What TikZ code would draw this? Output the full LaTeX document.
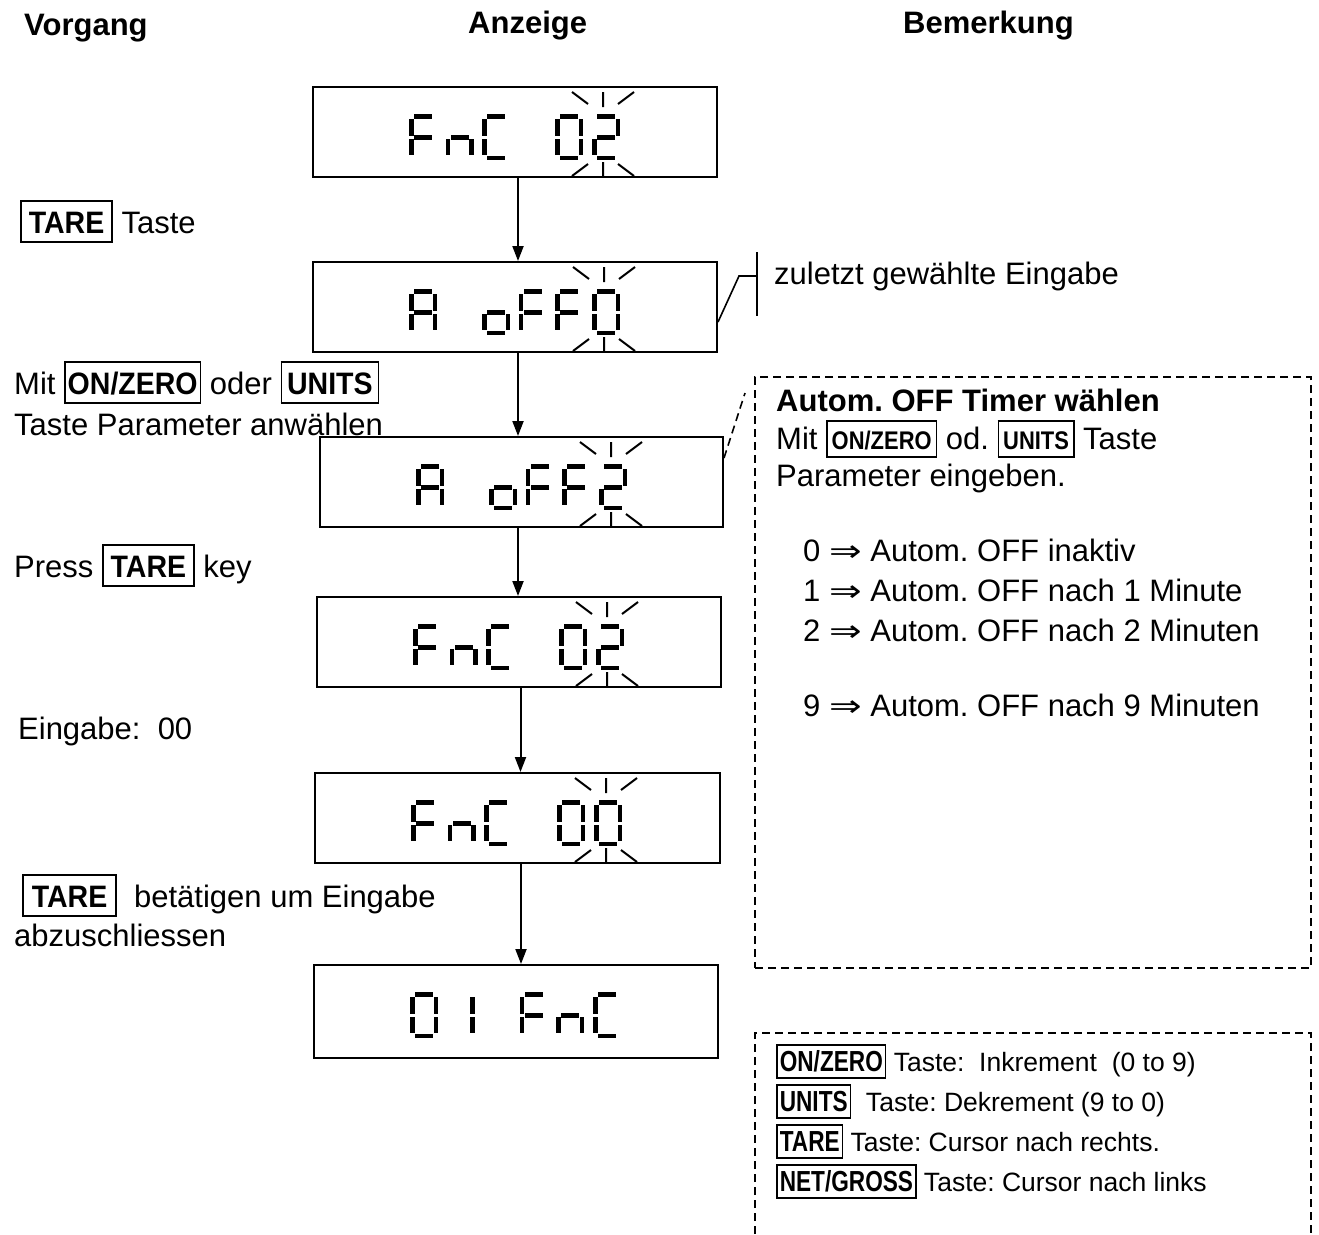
\documentclass[tikz,border=0pt]{standalone}
\usepackage{fontspec}
\setmainfont{Liberation Sans}
\newfontfamily\keyA{Liberation Sans}[FakeStretch=0.92]
\newfontfamily\keyB{Liberation Sans}[FakeStretch=0.86]
\newfontfamily\keyC{Liberation Sans}[FakeStretch=0.78]
\newfontfamily\symf{DejaVu Sans}
\usetikzlibrary{arrows.meta}
\frenchspacing
% key box: #1 font, #2 hpad, #3 height, #4 depth, #5 text
\newcommand\kbox[5]{{\setlength\fboxrule{1.6pt}\setlength\fboxsep{0pt}\fbox{\hspace*{#2}\rule[-#4]{0pt}{\dimexpr#3+#4\relax}{#1\bfseries #5}\hspace*{#2}}}}
\newcommand\kL[2][6pt]{\kbox{\keyA\fontsize{31}{31}\selectfont}{#1}{31pt}{8pt}{#2}}
\newcommand\kR[2][4pt]{\kbox{\keyB\fontsize{25.5}{25.5}\selectfont}{#1}{27pt}{7pt}{#2}}
\newcommand\kS[2][2pt]{\kbox{\keyC\fontsize{29}{29}\selectfont}{#1}{25pt}{6pt}{#2}}
\newcommand\impl{\scalebox{1.3}[1]{\symf\fontsize{30}{30}\selectfont ⇒}}
% seven segments
\newcommand\mysega[2]{\fill (#1+5,#2) rectangle (#1+23,#2+4.5);}
\newcommand\mysegf[2]{\fill (#1,#2+5) rectangle (#1+4.5,#2+22);}
\newcommand\mysegb[2]{\fill (#1+23.5,#2+5) rectangle (#1+28,#2+22);}
\newcommand\myseggg[2]{\fill (#1+5,#2+21) rectangle (#1+23,#2+25.5);}
\newcommand\mysege[2]{\fill (#1,#2+25) rectangle (#1+4.5,#2+40.5);}
\newcommand\mysegc[2]{\fill (#1+23.5,#2+25) rectangle (#1+28,#2+40.5);}
\newcommand\mysegd[2]{\fill (#1+5,#2+41.5) rectangle (#1+23,#2+46);}
\def\chF{a,f,gg,e}
\def\chn{gg,e,c}
\def\chC{a,f,e,d}
\def\chA{a,b,c,e,f,gg}
\def\cho{gg,c,d,e}
\def\chZ{a,b,c,d,e,f}
\def\chT{a,b,gg,e,d}
\def\chI{b,c}
\newcommand\segchar[3]{\edef\seglist{#3}\foreach \sg in \seglist {\csname myseg\sg\endcsname{#1}{#2}}}
\newcommand\dispseg[3]{\foreach \dc/\di in {#3}{\segchar{#1+96+36.6*\di}{#2+27}{\csname ch\dc\endcsname}}}
\newcommand\blinkmk[3]{\draw[blk] (#1-31,#2+5) -- (#1-15,#2+17) (#1,#2+5) -- (#1,#2+20) (#1+15,#2+17) -- (#1+31,#2+5) (#1-31,#3-1) -- (#1-15,#3-13) (#1,#3) -- (#1,#3-15) (#1+15,#3-13) -- (#1+31,#3-1);}
\begin{document}
\begin{tikzpicture}[x=1pt,y=-1pt,
  txt/.style={inner sep=0pt, anchor=base west, font=\fontsize{31}{39}\selectfont},
  small/.style={inner sep=0pt, anchor=base west, font=\fontsize{26.5}{33}\selectfont},
  hdr/.style={inner sep=0pt, anchor=base west, font=\fontsize{31}{37}\selectfont\bfseries},
  disp/.style={draw, line width=2pt, minimum width=404pt, minimum height=90pt, inner sep=0pt},
  arr/.style={line width=2pt, -{Triangle[length=15pt,width=11pt]}},
  blk/.style={line width=2pt},
  lnk/.style={line width=1.6pt},
  dsh/.style={line width=2.2pt, dash pattern=on 8pt off 5pt},
]
\useasboundingbox (0,0) rectangle (1319,1234);
% headers
\node[hdr] (h1) at (24,35) {Vorgang};
\node[hdr] (h2) at (468,33) {Anzeige};
\node[hdr] (h3) at (903,33) {Bemerkung};
% displays
\node[disp] (d1) at (515,132) {};
\node[disp] (d2) at (515,307) {};
\node[disp, minimum width=403pt] (d3) at (521.5,482) {};
\node[disp] (d4) at (519,642) {};
\node[disp, minimum width=405pt] (d5) at (517.5,818) {};
\node[disp, minimum height=93pt] (d6) at (516,1011.5) {};
\dispseg{313}{87}{F/0,n/1,C/2,Z/4,T/5}
\dispseg{313}{262}{A/0,o/2,F/3,F/4,Z/5}
\dispseg{320}{437}{A/0,o/2,F/3,F/4,T/5}
\dispseg{317}{597}{F/0,n/1,C/2,Z/4,T/5}
\dispseg{315}{773}{F/0,n/1,C/2,Z/4,Z/5}
\dispseg{314}{965}{Z/0,I/1,F/3,n/4,C/5}
\blinkmk{603}{87}{177}
\blinkmk{604}{262}{352}
\blinkmk{611}{437}{527}
\blinkmk{607}{597}{687}
\blinkmk{606}{773}{863}
% arrows
\draw[arr] ([xshift=3pt]d1.south) -- ([xshift=3pt]d1.south |- d2.north);
\draw[arr] ([xshift=3pt]d2.south) -- ([xshift=3pt]d2.south |- d3.north);
\draw[arr] ([xshift=-3.5pt]d3.south) -- ([xshift=-3.5pt]d3.south |- d4.north);
\draw[arr] ([xshift=1.5pt]d4.south) -- ([xshift=1.5pt]d4.south |- d5.north);
\draw[arr] ([xshift=3.5pt]d5.south) -- ([xshift=3.5pt]d5.south |- d6.north);
% callout solid
\coordinate (c2a) at (739,276);
\coordinate (c2b) at (757,276);
\coordinate (c2t) at (757,252);
\coordinate (c2u) at (757,316);
\draw[lnk] ([yshift=-15pt]d2.east) -- (c2a) -- (c2b);
\draw[lnk] (c2t) -- (c2u);
\node[txt] (z) at (774,284) {zuletzt gewählte Eingabe};
% callout dashed
\coordinate (c3) at (745,393);
\draw[dsh, line width=1.6pt] ([yshift=24pt]d3.east) -- (c3);
% right dashed box
\node[draw, dsh, minimum width=556pt, minimum height=591pt, inner sep=0pt] (rb) at (1033,672.5) {};
\draw[dsh] (755,1234) -- (755,1033) -- (1311,1033) -- (1311,1234);
% left texts
\node[txt] (t1) at (20,233) {\kL[7pt]{TARE} Taste};
\node[txt] (t2) at (14,394) {Mit \kL[2pt]{ON/ZERO} oder \kL[5pt]{UNITS}};
\node[txt] (t3) at (14,435) {Taste Parameter anwählen};
\node[txt] (t4) at (14,577) {Press \kL[7pt]{TARE} key};
\node[txt] (t5) at (18,739) {Eingabe:\ \ 00};
\node[txt] (t6) at (22,907) {\kL[8pt]{TARE}\ \ betätigen um Eingabe};
\node[txt] (t7) at (14,946) {abzuschliessen};
% right box texts
\node[txt, font=\fontsize{31}{39}\selectfont\bfseries] (r1) at (776,411) {Autom. OFF Timer wählen};
\node[txt] (r2) at (776,449) {Mit \kR{ON/ZERO} od. \kR{UNITS} Taste};
\node[txt] (r3) at (776,486) {Parameter eingeben.};
\node[txt] (r4) at (803,561) {0 \impl\ Autom. OFF inaktiv};
\node[txt] (r5) at (803,601) {1 \impl\ Autom. OFF nach 1 Minute};
\node[txt] (r6) at (803,641) {2 \impl\ Autom. OFF nach 2 Minuten};
\node[txt] (r7) at (803,716) {9 \impl\ Autom. OFF nach 9 Minuten};
% lower box texts
\node[small] (s1) at (776,1071) {\kS{ON/ZERO} Taste:\ \ Inkrement\ \ (0 to 9)};
\node[small] (s2) at (776,1111) {\kS{UNITS}\ \ Taste: Dekrement (9 to 0)};
\node[small] (s3) at (776,1151) {\kS{TARE} Taste: Cursor nach rechts.};
\node[small] (s4) at (776,1191) {\kS{NET/GROSS} Taste: Cursor nach links};
\end{tikzpicture}
\end{document}
